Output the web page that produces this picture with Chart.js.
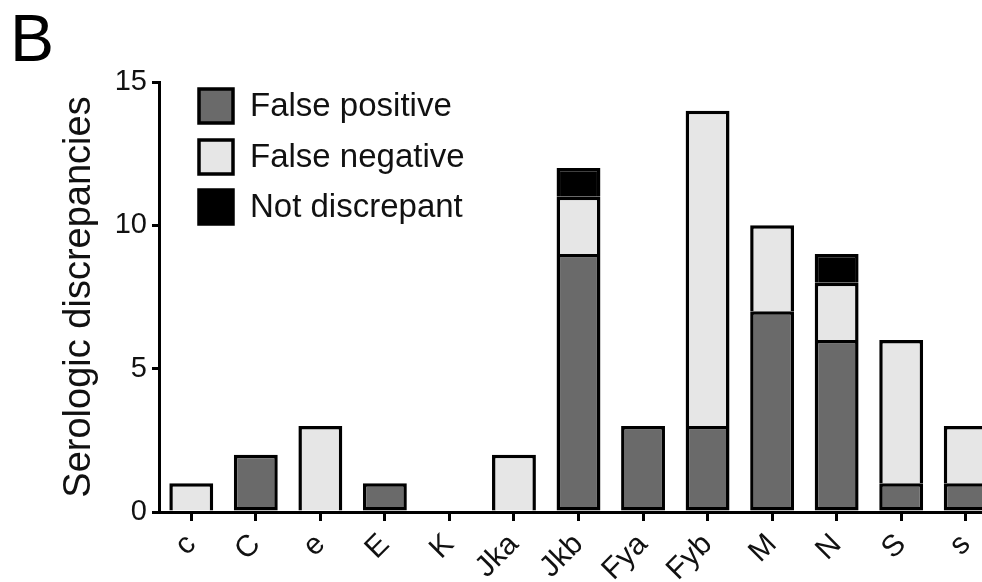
<!DOCTYPE html>
<html>
<head>
<meta charset="utf-8">
<script src="https://cdn.jsdelivr.net/npm/chart.js@4/dist/chart.umd.min.js"></script>
<style>
  html, body { margin: 0; padding: 0; background: #fff; overflow: hidden; }
  #wrap { position: absolute; left: 0; top: 0; width: 1010px; height: 582px; }
</style>
</head>
<body>
<div id="wrap"><canvas id="c" width="1010" height="582"></canvas></div>
<script>
const categories = ['c', 'C', 'e', 'E', 'K', 'Jka', 'Jkb', 'Fya', 'Fyb', 'M', 'N', 'S', 's'];
const falsePositive = [0, 2, 0, 1, 0, 0, 9, 3, 3, 7, 6, 1, 1];
const falseNegative = [1, 0, 3, 0, 0, 2, 2, 0, 11, 3, 2, 5, 2];
const notDiscrepant = [0, 0, 0, 0, 0, 0, 1, 0, 0, 0, 1, 0, 0];
const yTicks = [0, 5, 10, 15];
const seriesNames = ['False positive', 'False negative', 'Not discrepant'];
const panelLabel = 'B';
const yTitle = 'Serologic discrepancies';

const FONT = '"Liberation Sans", Arial, Helvetica, sans-serif';
const fills = ['#6a6a6a', '#e6e6e6', '#000000'];

function ds(label, data, color, skip) {
  return {
    label, data,
    backgroundColor: color,
    borderColor: '#000',
    borderWidth: 3.5,
    borderSkipped: skip,
    barPercentage: 0.68,
    categoryPercentage: 1.0
  };
}

const overlay = {
  id: 'overlay',
  afterDraw(chart) {
    const ctx = chart.ctx;
    ctx.save();
    // panel label
    ctx.fillStyle = '#000';
    ctx.font = '66px ' + FONT;
    ctx.textAlign = 'left';
    ctx.textBaseline = 'alphabetic';
    ctx.fillText(panelLabel, 10, 61);
    // legend
    const bx = 199, size = 34, tops = [89, 140, 190];
    chart.data.datasets.forEach((d, i) => {
      ctx.fillStyle = d.backgroundColor;
      ctx.fillRect(bx, tops[i], size, size);
      ctx.lineWidth = 3.5;
      ctx.strokeStyle = '#000';
      ctx.strokeRect(bx, tops[i], size, size);
      ctx.fillStyle = '#111';
      ctx.font = '33px ' + FONT;
      ctx.textBaseline = 'middle';
      ctx.fillText(d.label, 250, tops[i] + size / 2 + 1);
    });
    ctx.restore();
  }
};

new Chart(document.getElementById('c'), {
  type: 'bar',
  data: {
    labels: categories,
    datasets: [
      ds(seriesNames[0], falsePositive, fills[0], false),
      ds(seriesNames[1], falseNegative, fills[1], 'start'),
      ds(seriesNames[2], notDiscrepant, fills[2], 'start')
    ]
  },
  options: {
    responsive: false,
    animation: false,
    devicePixelRatio: 1,
    layout: { padding: { top: 82, right: 12, left: 0, bottom: 0 } },
    plugins: { legend: { display: false }, tooltip: { enabled: false }, title: { display: false } },
    scales: {
      x: {
        stacked: true,
        grid: { display: true, drawOnChartArea: false, drawTicks: true, tickLength: 9, offset: false, lineWidth: 3, color: '#000' },
        border: { display: true, width: 3, color: '#000' },
        ticks: { color: '#111', font: { family: FONT, size: 30 }, maxRotation: 45, minRotation: 45, padding: 6, autoSkip: false },
        afterFit(s) { s.height = 70; }
      },
      y: {
        stacked: true,
        min: 0, max: 15,
        afterBuildTicks(s) { s.ticks = yTicks.map(v => ({ value: v })); },
        grid: { display: true, drawOnChartArea: false, drawTicks: true, tickLength: 7, lineWidth: 3, color: '#000' },
        border: { display: true, width: 3, color: '#000' },
        ticks: { color: '#111', font: { family: FONT, size: 29 }, padding: 5 },
        title: { display: true, text: yTitle, color: '#111', font: { family: FONT, size: 38 }, padding: { top: 57, bottom: 0 } },
        afterFit(s) { s.width = 159; }
      }
    }
  },
  plugins: [overlay]
});
</script>
</body>
</html>
